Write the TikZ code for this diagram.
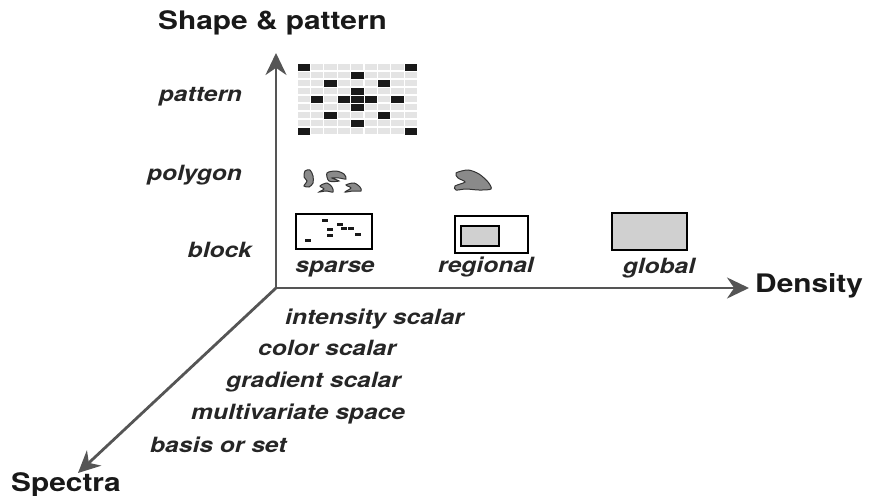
\documentclass[tikz,border=0pt]{standalone}
\usepackage{fontspec}
\setmainfont{TeX Gyre Heros}[FakeStretch=1.17]
\usetikzlibrary{arrows.meta}
\definecolor{axisgray}{HTML}{555555}
\definecolor{cellgray}{HTML}{E4E4E4}
\definecolor{blobgray}{HTML}{8A8A8A}
\definecolor{boxgray}{HTML}{D0D0D0}
\tikzset{
  axis/.style={draw=axisgray,line width=2.8pt,-{Stealth[length=22pt,width=21pt]}},
  axistitle/.style={font=\fontsize{25.5}{28}\selectfont\bfseries,text=black!90,inner sep=0pt},
  lbl/.style={font=\fontsize{21}{24}\selectfont\bfseries\itshape,text=black!85,inner sep=0pt},
  blob/.style={fill=blobgray,draw=black!80,line width=1pt},
  frame/.style={draw=black,line width=1.1pt},
}
\begin{document}
\begin{tikzpicture}[x=1pt,y=-1pt]
  \useasboundingbox (0,0) rectangle (869,495);
  % axes
  \coordinate (o) at (276,288);
  \coordinate (ytop) at (276,53);
  \coordinate (xend) at (749,288);
  \coordinate (zend) at (78,473);
  \draw[axis] (o) -- (ytop);
  \draw[axis] (o) -- (xend);
  \draw[axis] (o) -- (zend);
  \node[axistitle,anchor=base west] (shape) at (158,30) {Shape \& pattern};
  \node[axistitle,anchor=base west] (density) at (755,292) {Density};
  \node[axistitle,anchor=base west] (spectra) at (11,491) {Spectra};
  % shape levels
  \node[lbl,anchor=base east] (pattern) at (242,101) {pattern};
  \node[lbl,anchor=base east] (polygon) at (242,180) {polygon};
  \node[lbl,anchor=base east] (block) at (252,257) {block};
  % density levels
  \node[lbl,anchor=base] (sparse) at (335,272) {sparse};
  \node[lbl,anchor=base] (regional) at (486,272) {regional};
  \node[lbl,anchor=base] (global) at (659,273) {global};
  % spectra levels
  \node[lbl,anchor=base west] (intensity) at (285,324) {intensity scalar};
  \node[lbl,anchor=base west] (color) at (258,355) {color scalar};
  \node[lbl,anchor=base west] (gradient) at (226,387) {gradient scalar};
  \node[lbl,anchor=base west] (multi) at (191,419) {multivariate space};
  \node[lbl,anchor=base west] (basis) at (150,452) {basis or set};
  % pattern grid
  \foreach \r in {0,...,8}
    \foreach \c in {0,...,8}
      \fill[cellgray] (297+\c*13.4+0.6,63+\r*8+0.6) rectangle ++(12.2,6.8);
  \foreach \c/\r in {0/0,8/0,4/1,2/2,6/2,4/3,1/4,3/4,4/4,5/4,7/4,4/5,2/6,6/6,4/7,0/8,8/8}
    \fill[black!90] (297+\c*13.4+0.5,63+\r*8+0.5) rectangle ++(12.4,7);
  % polygons
  \draw[blob] plot[smooth cycle] coordinates {(305,171) (310,170) (313,176) (313,183) (309,187) (304,186) (307,181) (304,177)};
  \draw[blob] plot[smooth cycle] coordinates {(327,173) (336,171) (344,174) (346,179) (339,178) (332,178) (339,181) (329,181)};
  \draw[blob] plot[smooth cycle] coordinates {(320,186) (327,183) (332,187) (333,192) (326,191) (319,192) (324,189)};
  \draw[blob] plot[smooth cycle] coordinates {(346,185) (354,183) (360,187) (361,191) (353,191) (345,192) (351,188)};
  \draw[blob] plot[smooth cycle] coordinates {(456,173) (468,170) (479,174) (488,182) (491,189) (479,190) (466,189) (456,190) (455,186) (465,182) (458,178)};
  % blocks
  \draw[frame] (296,214) rectangle (372,249);
  \foreach \dx/\dy in {322/219,327/228,327/234,337/223,341/227,348/227,355/233,305/239}
    \fill[black!90] (\dx,\dy) rectangle ++(6,2.6);
  \draw[frame] (455,216) rectangle (528,253);
  \draw[frame,fill=boxgray] (461,226) rectangle (499,246);
  \draw[frame,fill=boxgray] (612,213) rectangle (687,250);
\end{tikzpicture}
\end{document}
